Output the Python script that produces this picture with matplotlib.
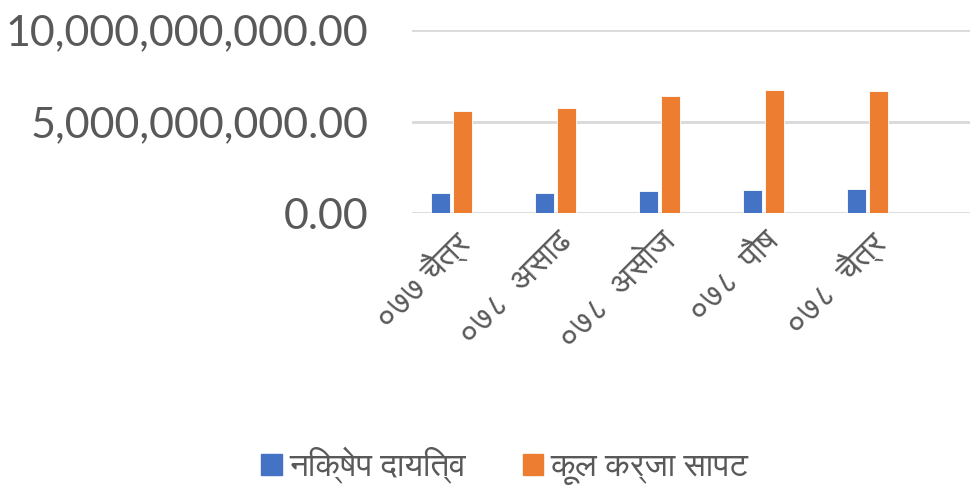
import matplotlib
matplotlib.use("Agg")
import matplotlib.pyplot as plt
from matplotlib.patches import Patch
import numpy as np

categories = ["०७७ चैत्र", "०७८  असाढ", "०७८  असोज", "०७८  पौष", "०७८  चैत्र"]
series_names = ["निक्षेप दायित्व", "कूल कर्जा सापट"]
deposits = [1.08e9, 1.08e9, 1.19e9, 1.26e9, 1.32e9]
loans = [5.60e9, 5.75e9, 6.39e9, 6.74e9, 6.67e9]
yticks = [0, 5e9, 10e9]
colors = ["#4472C4", "#ED7D31"]

deva_font = ["FreeSans", "DejaVu Sans"]
plt.rcParams["font.family"] = ["Lato", "FreeSans", "DejaVu Sans"]

fig = plt.figure(figsize=(9.71, 4.88), dpi=100)
ax = fig.add_axes([0.424, 0.5635, 0.575, 0.375])

x = np.arange(len(categories))
w = 0.183
ax.bar(x - 0.106, deposits, w, color=colors[0], edgecolor="white", linewidth=0.6, zorder=3)
ax.bar(x + 0.106, loans, w, color=colors[1], edgecolor="white", linewidth=0.6, zorder=3)

ax.set_xlim(-0.385, 4.99)
ax.set_ylim(0, 1e10)
ax.set_yticks(yticks)
ax.set_yticklabels([f"{v:,.2f}" for v in yticks], fontsize=31, color="#595959")
ax.set_xticks(x)
ax.set_xticklabels(categories, rotation=45, ha="right", rotation_mode="anchor",
                   fontsize=24, color="#595959", family=deva_font)
ax.tick_params(axis="both", length=0)
ax.tick_params(axis="y", pad=31)
ax.tick_params(axis="x", pad=9)
ax.grid(axis="y", color="#D9D9D9", linewidth=2, zorder=0)
for s in ax.spines.values():
    s.set_visible(False)

handles = [Patch(color=c, label=n) for c, n in zip(colors, series_names)]
fig.legend(handles=handles, loc="center", bbox_to_anchor=(0.52, 0.045), ncol=2,
           frameon=False, prop={"family": deva_font, "size": 24}, labelcolor="#595959",
           handlelength=0.62, handleheight=0.62, handletextpad=0.22, columnspacing=1.7)

fig.savefig("out.png", dpi=100)
